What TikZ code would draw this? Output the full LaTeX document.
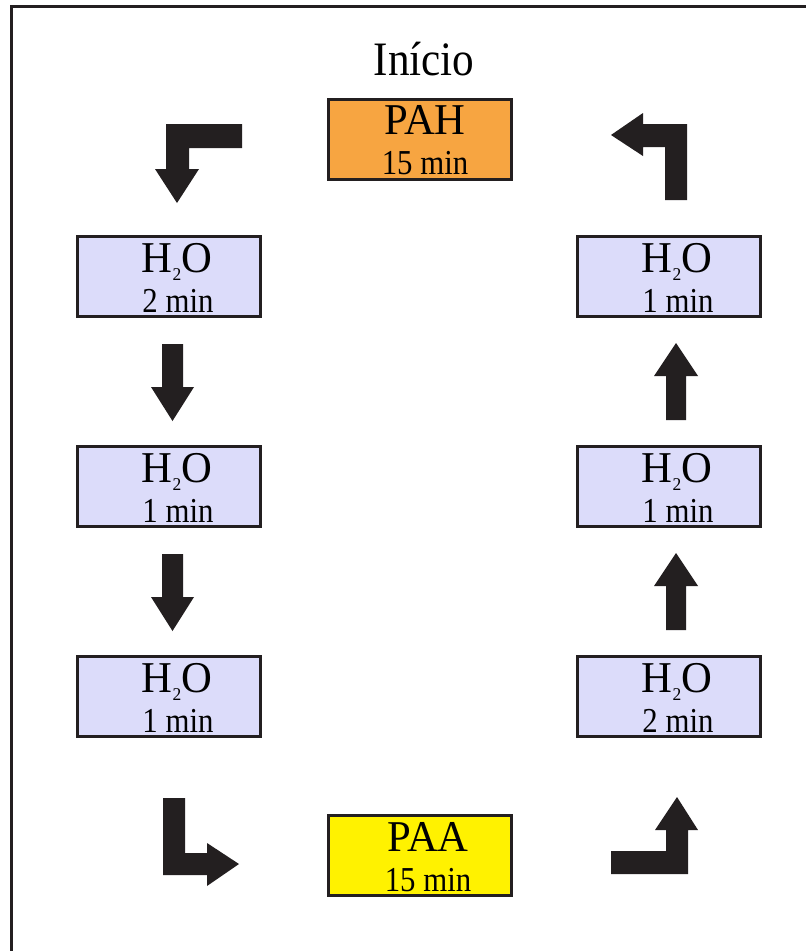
\documentclass[tikz,border=0pt]{standalone}
\usepackage{fontspec}
\setmainfont{Liberation Serif}
\usepackage{graphicx}
\definecolor{ink}{HTML}{231F20}
\definecolor{lav}{HTML}{DCDCFA}
\definecolor{org}{HTML}{F7A541}
\definecolor{ylw}{HTML}{FFF200}
\newcommand{\lineA}[1]{\scalebox{0.97}[1]{\fontsize{44}{44}\selectfont #1}}
\newcommand{\lineB}[1]{\scalebox{0.88}[1]{\fontsize{35}{35}\selectfont #1}}
\newcommand{\water}{H\raisebox{-8pt}{\fontsize{18}{18}\selectfont 2}O}
\begin{document}
\begin{tikzpicture}[x=1pt,y=-1pt,
  box/.style={draw=ink,line width=3pt,minimum width=183pt,minimum height=80pt,inner sep=0pt},
  txt/.style={anchor=base,inner sep=0pt,text=black},
  blk/.style={fill=ink,draw=none}]
\useasboundingbox (0,0) rectangle (806,951);
\fill[white] (0,0) rectangle (806,951);
\draw[ink,line width=3pt] (11.5,951) -- (11.5,6.5) -- (806,6.5);
% title
\node[txt] (title) at (424,75) {\scalebox{0.9}[1]{\fontsize{48}{48}\selectfont Início}};
% boxes
\node[box,fill=org] (pah) at (419.5,139) {};
\node[txt] (pah1) at (425,134) {\lineA{PAH}};
\node[txt] (pah2) at (425,174) {\lineB{15 min}};
\node[box,fill=ylw] (paa) at (419.5,855) {};
\node[txt] (paa1) at (428,851) {\lineA{PAA}};
\node[txt] (paa2) at (428,891) {\lineB{15 min}};
\foreach \n/\x/\y/\t in {l1/169/276/2, l2/169/486/1, l3/169/696/1, r1/669/276/1, r2/669/486/1, r3/669/696/2}{
  \node[box,fill=lav] (\n) at (\x,\y) {};
  \node[txt] (\n a) at (\x+8,\y-4) {\lineA{\water}};
  \node[txt] (\n b) at (\x+9,\y+36) {\lineB{\t\ min}};
}
% bent arrows
\fill[blk] (242,124) -- (166,124) -- (166,169) -- (155,169) -- (177,203) -- (199,169) -- (189,169) -- (189,148) -- (242,148) -- cycle;
\fill[blk] (687,200) -- (687,124) -- (643,124) -- (643,113) -- (611,135) -- (643,156) -- (643,147) -- (665,147) -- (665,200) -- cycle;
\fill[blk] (163,798) -- (185,798) -- (185,853) -- (207,853) -- (207,843) -- (239,864) -- (207,886) -- (207,875) -- (163,875) -- cycle;
\fill[blk] (611,851) -- (666,851) -- (666,830) -- (655,830) -- (677,797) -- (698,830) -- (688,830) -- (688,874) -- (611,874) -- cycle;
% straight arrows
\foreach \d in {0,210}{
  \fill[blk] (162,344+\d) -- (183,344+\d) -- (183,387+\d) -- (194,387+\d) -- (172.5,421+\d) -- (151,387+\d) -- (162,387+\d) -- cycle;
  \fill[blk] (666,420+\d) -- (686,420+\d) -- (686,376+\d) -- (698,376+\d) -- (676,343+\d) -- (654,376+\d) -- (666,376+\d) -- cycle;
}
\end{tikzpicture}
\end{document}
